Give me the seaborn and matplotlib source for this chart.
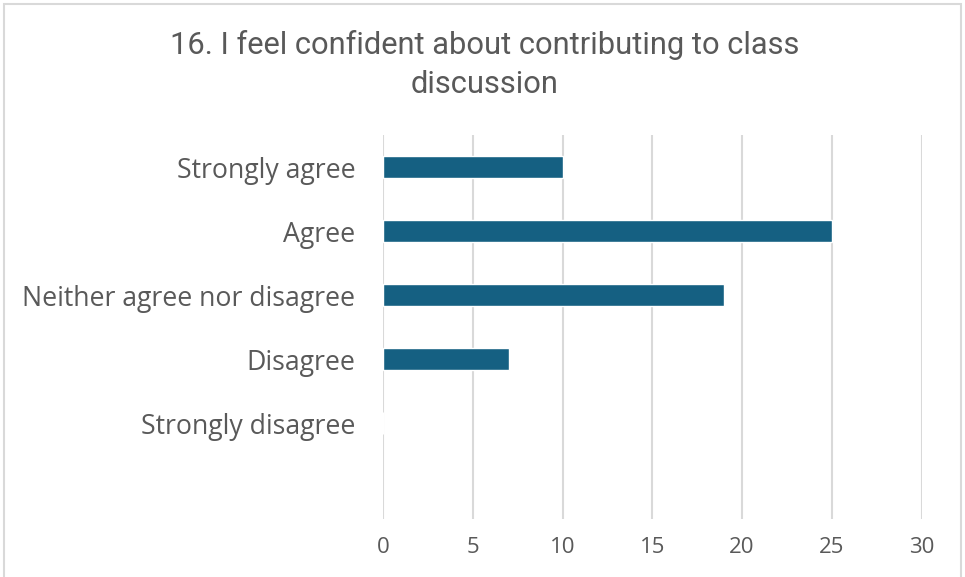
import matplotlib
matplotlib.use("Agg")
import matplotlib.pyplot as plt
import seaborn as sns
import pandas as pd

categories = ["Strongly agree", "Agree", "Neither agree nor disagree", "Disagree", "Strongly disagree"]
counts = [10, 25, 19, 7, 0]
x_ticks = [0, 5, 10, 15, 20, 25, 30]
title = "16. I feel confident about contributing to class\ndiscussion"

df = pd.DataFrame({"response": categories, "count": counts})

sns.set_theme(style="white")
plt.rcParams["font.family"] = ["Open Sans", "DejaVu Sans"]

text_color = "#595959"
bar_color = "#156082"
grid_color = "#d9d9d9"

fig = plt.figure(figsize=(9.65, 5.77), dpi=100)
ax = fig.add_axes([0.397, 0.1005, 0.558, 0.6655])

sns.barplot(data=df, x="count", y="response", orient="h", order=categories,
            color=bar_color, saturation=1, width=0.35, ax=ax)

ax.set_xlim(0, 30)
ax.set_ylim(5.5, -0.5)
ax.set_xticks(x_ticks)
ax.xaxis.grid(True, color=grid_color, linewidth=1.5)
ax.set_axisbelow(True)
for s in ax.spines.values():
    s.set_visible(False)
ax.tick_params(axis="y", length=0, pad=20, labelsize=19.2, labelcolor=text_color)
ax.tick_params(axis="x", length=0, pad=13, labelsize=16, labelcolor=text_color)
ax.set_xlabel("")
ax.set_ylabel("")

fig.text(0.502, 0.888, title, ha="center", va="center", fontsize=22.2,
         color=text_color, linespacing=1.44, family=["Roboto", "DejaVu Sans"])

# chart frame
frame = plt.Rectangle((0.004, -0.01), 0.992, 1.003, transform=fig.transFigure,
                      fill=False, edgecolor="#d9d9d9", linewidth=1.5)
fig.add_artist(frame)

fig.savefig("out.png", dpi=100, facecolor="white")
